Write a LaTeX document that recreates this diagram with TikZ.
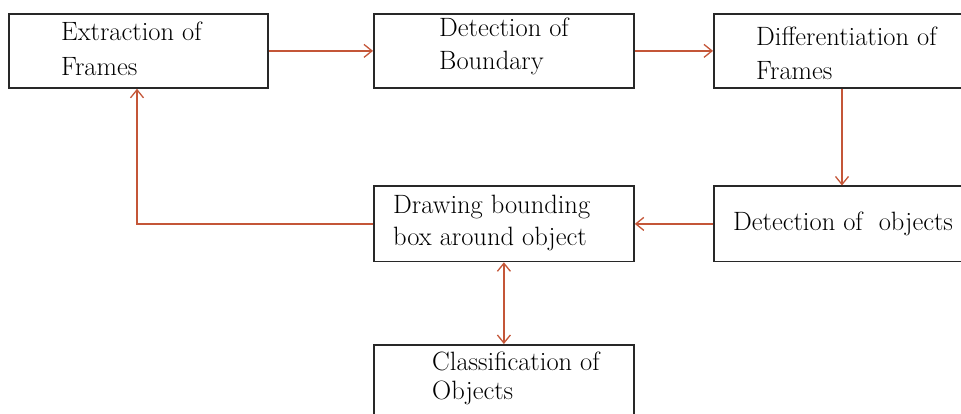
\documentclass[tikz,border=0pt]{standalone}
\usepackage{fontspec}
\usetikzlibrary{arrows.meta}
\definecolor{arrcol}{RGB}{196,86,56}
\definecolor{boxcol}{RGB}{40,40,40}
\begin{document}
\begin{tikzpicture}[x=1pt,y=-1pt,
  box/.style={draw=boxcol,line width=1.8pt,rectangle,anchor=north west,inner sep=0pt},
  txt/.style={anchor=base west,inner sep=0pt,text=black,font=\fontsize{26.5}{30}\selectfont\addfontfeature{FakeBold=1.2}},
  arr/.style={draw=arrcol,line width=1.6pt,-{Straight Barb[length=8pt,width=13pt,line width=1.3pt]}},
  darr/.style={draw=arrcol,line width=1.6pt,{Straight Barb[length=8pt,width=13pt,line width=1.3pt]}-{Straight Barb[length=8pt,width=13pt,line width=1.3pt]}}]
\useasboundingbox (0,0) rectangle (961,414);
% boxes
\node[box,minimum width=259pt,minimum height=74pt] (b1) at (8,13) {};
\node[box,minimum width=260pt,minimum height=74pt] (b2) at (373,13) {};
\node[box,minimum width=260pt,minimum height=74pt] (b3) at (713,13) {};
\node[box,minimum width=260pt,minimum height=75pt] (b5) at (373,185.5) {};
\node[box,minimum width=260pt,minimum height=75pt] (b4) at (713,185.5) {};
\node[box,minimum width=260pt,minimum height=80pt] (b6) at (373,344) {};
% texts
\node[txt] (t1a) at (61,41) {Extraction of};
\node[txt] (t1b) at (61,76) {Frames};
\node[txt] (t2a) at (439,37) {Detection of};
\node[txt] (t2b) at (439,70) {Boundary};
\node[txt] (t3a) at (756,46) {Differentiation of};
\node[txt] (t3b) at (756,80) {Frames};
\node[txt] (t5a) at (393,214) {Drawing bounding};
\node[txt] (t5b) at (393,245) {box around object};
\node[txt] (t4a) at (733,231) {Detection of\ \ objects};
\node[txt] (t6a) at (432,370) {Classification of};
\node[txt] (t6b) at (432,399) {Objects};
% connector helpers
\coordinate (cl) at (137,0);
\coordinate (cr) at (842,0);
% connectors
\draw[arr] (b1.east) -- (b2.west);
\draw[arr] (b2.east) -- (b3.west);
\draw[arr] (cr |- b3.south) -- (cr |- b4.north);
\draw[arr] (b4.west) -- (b5.east);
\draw[arr] (b5.west) -| (cl |- b1.south);
\draw[darr] (b5.south) -- (b6.north);
\end{tikzpicture}
\end{document}
